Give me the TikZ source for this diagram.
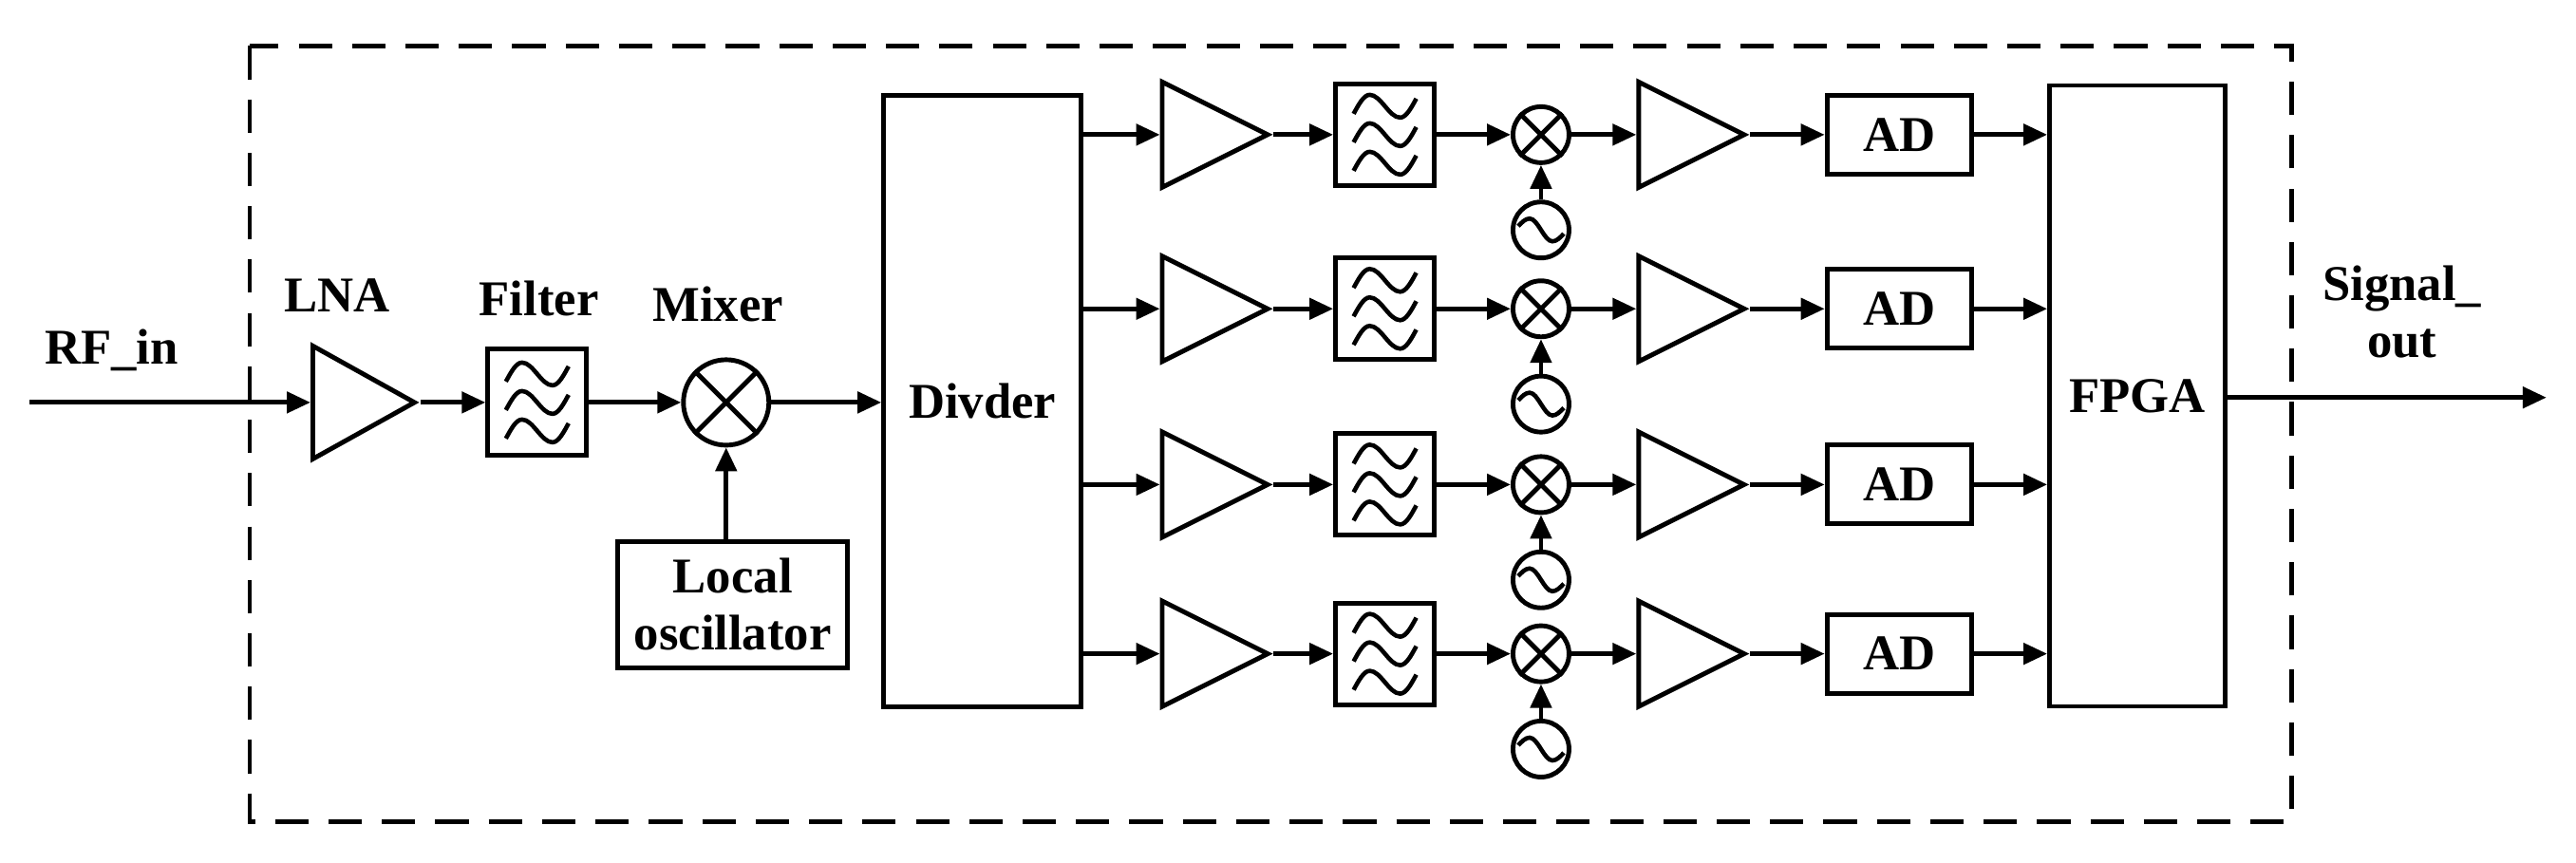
\documentclass[tikz,border=0pt]{standalone}
\usepackage{fontspec}
\setmainfont{Liberation Serif}
\usetikzlibrary{arrows.meta,shapes.geometric}

\tikzset{
  blk/.style={draw, line width=1.4pt, inner sep=0pt, font=\bfseries\fontsize{15}{17}\selectfont, align=center},
  amp/.style={draw, line width=1.4pt, isosceles triangle, isosceles triangle stretches, inner sep=0pt, anchor=west},
  mix/.style={draw, line width=1.4pt, circle, inner sep=0pt},
  lbl/.style={font=\bfseries\fontsize{15}{17}\selectfont, align=center},
  sig/.style={line width=1.4pt, -{Triangle[length=0.25cm,width=0.22cm]}},
}
% filter symbol inside a box node
\newcommand\wavesym[1]{%
  \begin{scope}[shift={(#1.center)}, x=1cm, y=1cm, line width=1.3pt]
    \foreach \dy in {0.3,0,-0.3}
      \draw (-0.33,\dy-0.08) sin (-0.16,\dy+0.12) cos (0,\dy) sin (0.16,\dy-0.12) cos (0.33,\dy+0.08);
  \end{scope}}
% cross inside a mixer circle
\newcommand\crosssym[1]{%
  \draw[line width=1.4pt] (#1.north west) -- (#1.south east) (#1.north east) -- (#1.south west);}
% sine inside an oscillator circle
\newcommand\oscsym[1]{%
  \draw[line width=1.3pt, x=1cm, y=1cm, shift={(#1.center)}] (-0.24,0.04) sin (-0.12,0.12) cos (0,0) sin (0.12,-0.12) cos (0.24,-0.04);}

\begin{document}
\begin{tikzpicture}[x=0.0173cm, y=-0.0173cm]
  \useasboundingbox (0,0) rectangle (1568,525);
  \draw[line width=1.4pt, dash pattern=on 10pt off 6pt] (152,28) rectangle (1395,500);

  % front end
  \coordinate (in) at (18,245);
  \node[lbl] (rflabel) at (68,213) {RF\_in};
  \node[amp, minimum width=1.19cm, minimum height=1.07cm] (lna) at (189,245) {};
  \node[lbl] (lnalabel) at (205,180) {LNA};
  \node[blk, minimum width=1.04cm, minimum height=1.12cm] (filt) at (327,245) {};
  \wavesym{filt}
  \node[lbl] (filtlabel) at (328,182) {Filter};
  \node[mix, minimum size=0.9cm] (mixer) at (442,245) {};
  \crosssym{mixer}
  \node[lbl] (mixlabel) at (437,185) {Mixer};
  \node[blk, minimum width=2.42cm, minimum height=1.33cm] (lo) at (446,368) {Local\\oscillator};
  \node[blk, minimum width=2.08cm, minimum height=6.44cm] (div) at (598,244) {Divder};
  \node[blk, minimum width=1.85cm, minimum height=6.54cm] (fpga) at (1301,241) {FPGA};
  \coordinate (out) at (1550,242);
  \node[lbl] (outlabel) at (1462,190) {Signal\_\\out};

  \draw[sig] (in) -- (in -| lna.west);
  \draw[sig] (lna.east) -- (filt.west);
  \draw[sig] (filt.east) -- (mixer.west);
  \draw[sig] (lo.north -| mixer) -- (mixer.south);
  \draw[sig] (mixer.east) -- (mixer -| div.west);
  \draw[sig] (fpga.east |- out) -- (out);

  % four branches
  \foreach \i/\y in {1/82,2/188,3/295,4/398}{
    \node[amp, minimum width=1.11cm, minimum height=1.11cm] (ampa\i) at (706,\y) {};
    \node[blk, minimum width=1.04cm, minimum height=1.07cm] (bpf\i) at (843,\y) {};
    \wavesym{bpf\i}
    \node[mix, minimum size=0.59cm] (mx\i) at (938,\y) {};
    \crosssym{mx\i}
    \node[mix, minimum size=0.59cm] (osc\i) at (938,\y+58) {};
    \oscsym{osc\i}
    \node[amp, minimum width=1.11cm, minimum height=1.11cm] (ampb\i) at (996,\y) {};
    \node[blk, minimum width=1.52cm, minimum height=0.83cm] (ad\i) at (1156,\y) {AD};
    \draw[sig] (ampa\i -| div.east) -- (ampa\i.west);
    \draw[sig] (ampa\i.east) -- (bpf\i.west);
    \draw[sig] (bpf\i.east) -- (mx\i.west);
    \draw[sig] (osc\i.north) -- (mx\i.south);
    \draw[sig] (mx\i.east) -- (ampb\i.west);
    \draw[sig] (ampb\i.east) -- (ad\i.west);
    \draw[sig] (ad\i.east) -- (ad\i -| fpga.west);
  }
\end{tikzpicture}
\end{document}
